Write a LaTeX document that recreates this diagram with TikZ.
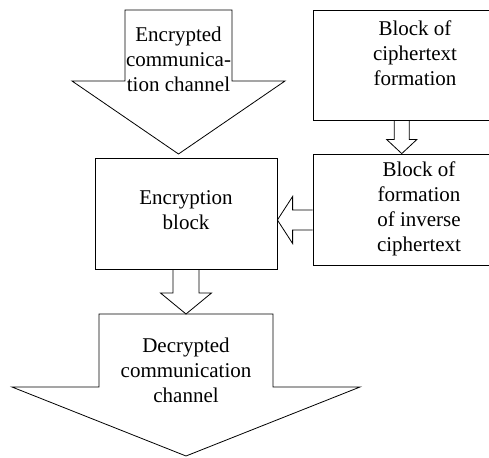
\documentclass[tikz,border=0pt]{standalone}
\usepackage{fontspec}
\setmainfont{Liberation Serif}
\usetikzlibrary{calc}
\begin{document}
\begin{tikzpicture}[x=1pt, y=-1pt, line width=0.8pt,
	blockbox/.style={draw, rectangle, inner sep=0pt},
	blocktext/.style={align=center, inner sep=0pt, font=\fontsize{21}{25}\selectfont}]
\useasboundingbox (0,0) rectangle (489,457);
% channels
\draw (125,10) -- (232,10) -- (232,81) -- (285,81) -- (178.5,154) -- (72,81) -- (125,81) -- cycle;
\node[blocktext] (encch) at (178.5,59) {Encrypted\\communica-\\tion channel};
\draw (99,314) -- (273,314) -- (273,387) -- (360,387) -- (186,456) -- (12,387) -- (99,387) -- cycle;
\coordinate (dectop) at (186,314);
\node[blocktext] (dec) at (186,370) {Decrypted\\communication\\channel};
% blocks
\node[blockbox, minimum width=182pt, minimum height=111pt] (enc) at (186,213.5) {};
\node[blocktext] at (186,210) {Encryption\\block};
\node[blockbox, minimum width=177.5pt, minimum height=110pt] (ctf) at (401.75,65) {};
\node[blocktext] at (415,53) {Block of\\ciphertext\\formation};
\node[blockbox, minimum width=177.5pt, minimum height=111pt] (icf) at (401.75,209.5) {};
\node[blocktext] at (419,209) {Block of\\formation\\of inverse\\ciphertext};
% block arrows down
\foreach \a / \b / \w / \h / \l in {ctf/icf.north/7.5/15/14, enc/dectop/13/25.5/21} {
	\draw ($(\a.south)+(-\w,0)$) -- ($(\a.south |- \b)+(-\w,-\l)$) -- ($(\a.south |- \b)+(-\h,-\l)$)
		-- (\a.south |- \b) -- ($(\a.south |- \b)+(\h,-\l)$) -- ($(\a.south |- \b)+(\w,-\l)$) -- ($(\a.south)+(\w,0)$);
}
% block arrow left
\coordinate (la) at ([yshift=-10.5pt]icf.west);
\coordinate (lb) at ([yshift=-7.5pt]enc.east);
\draw ($(la)+(0,-10)$) -- ($(la)+(-20,-10)$) -- ($(la)+(-20,-23.5)$) -- (lb |- la)
	-- ($(la)+(-20,23.5)$) -- ($(la)+(-20,10)$) -- ($(la)+(0,10)$);
\end{tikzpicture}
\end{document}
